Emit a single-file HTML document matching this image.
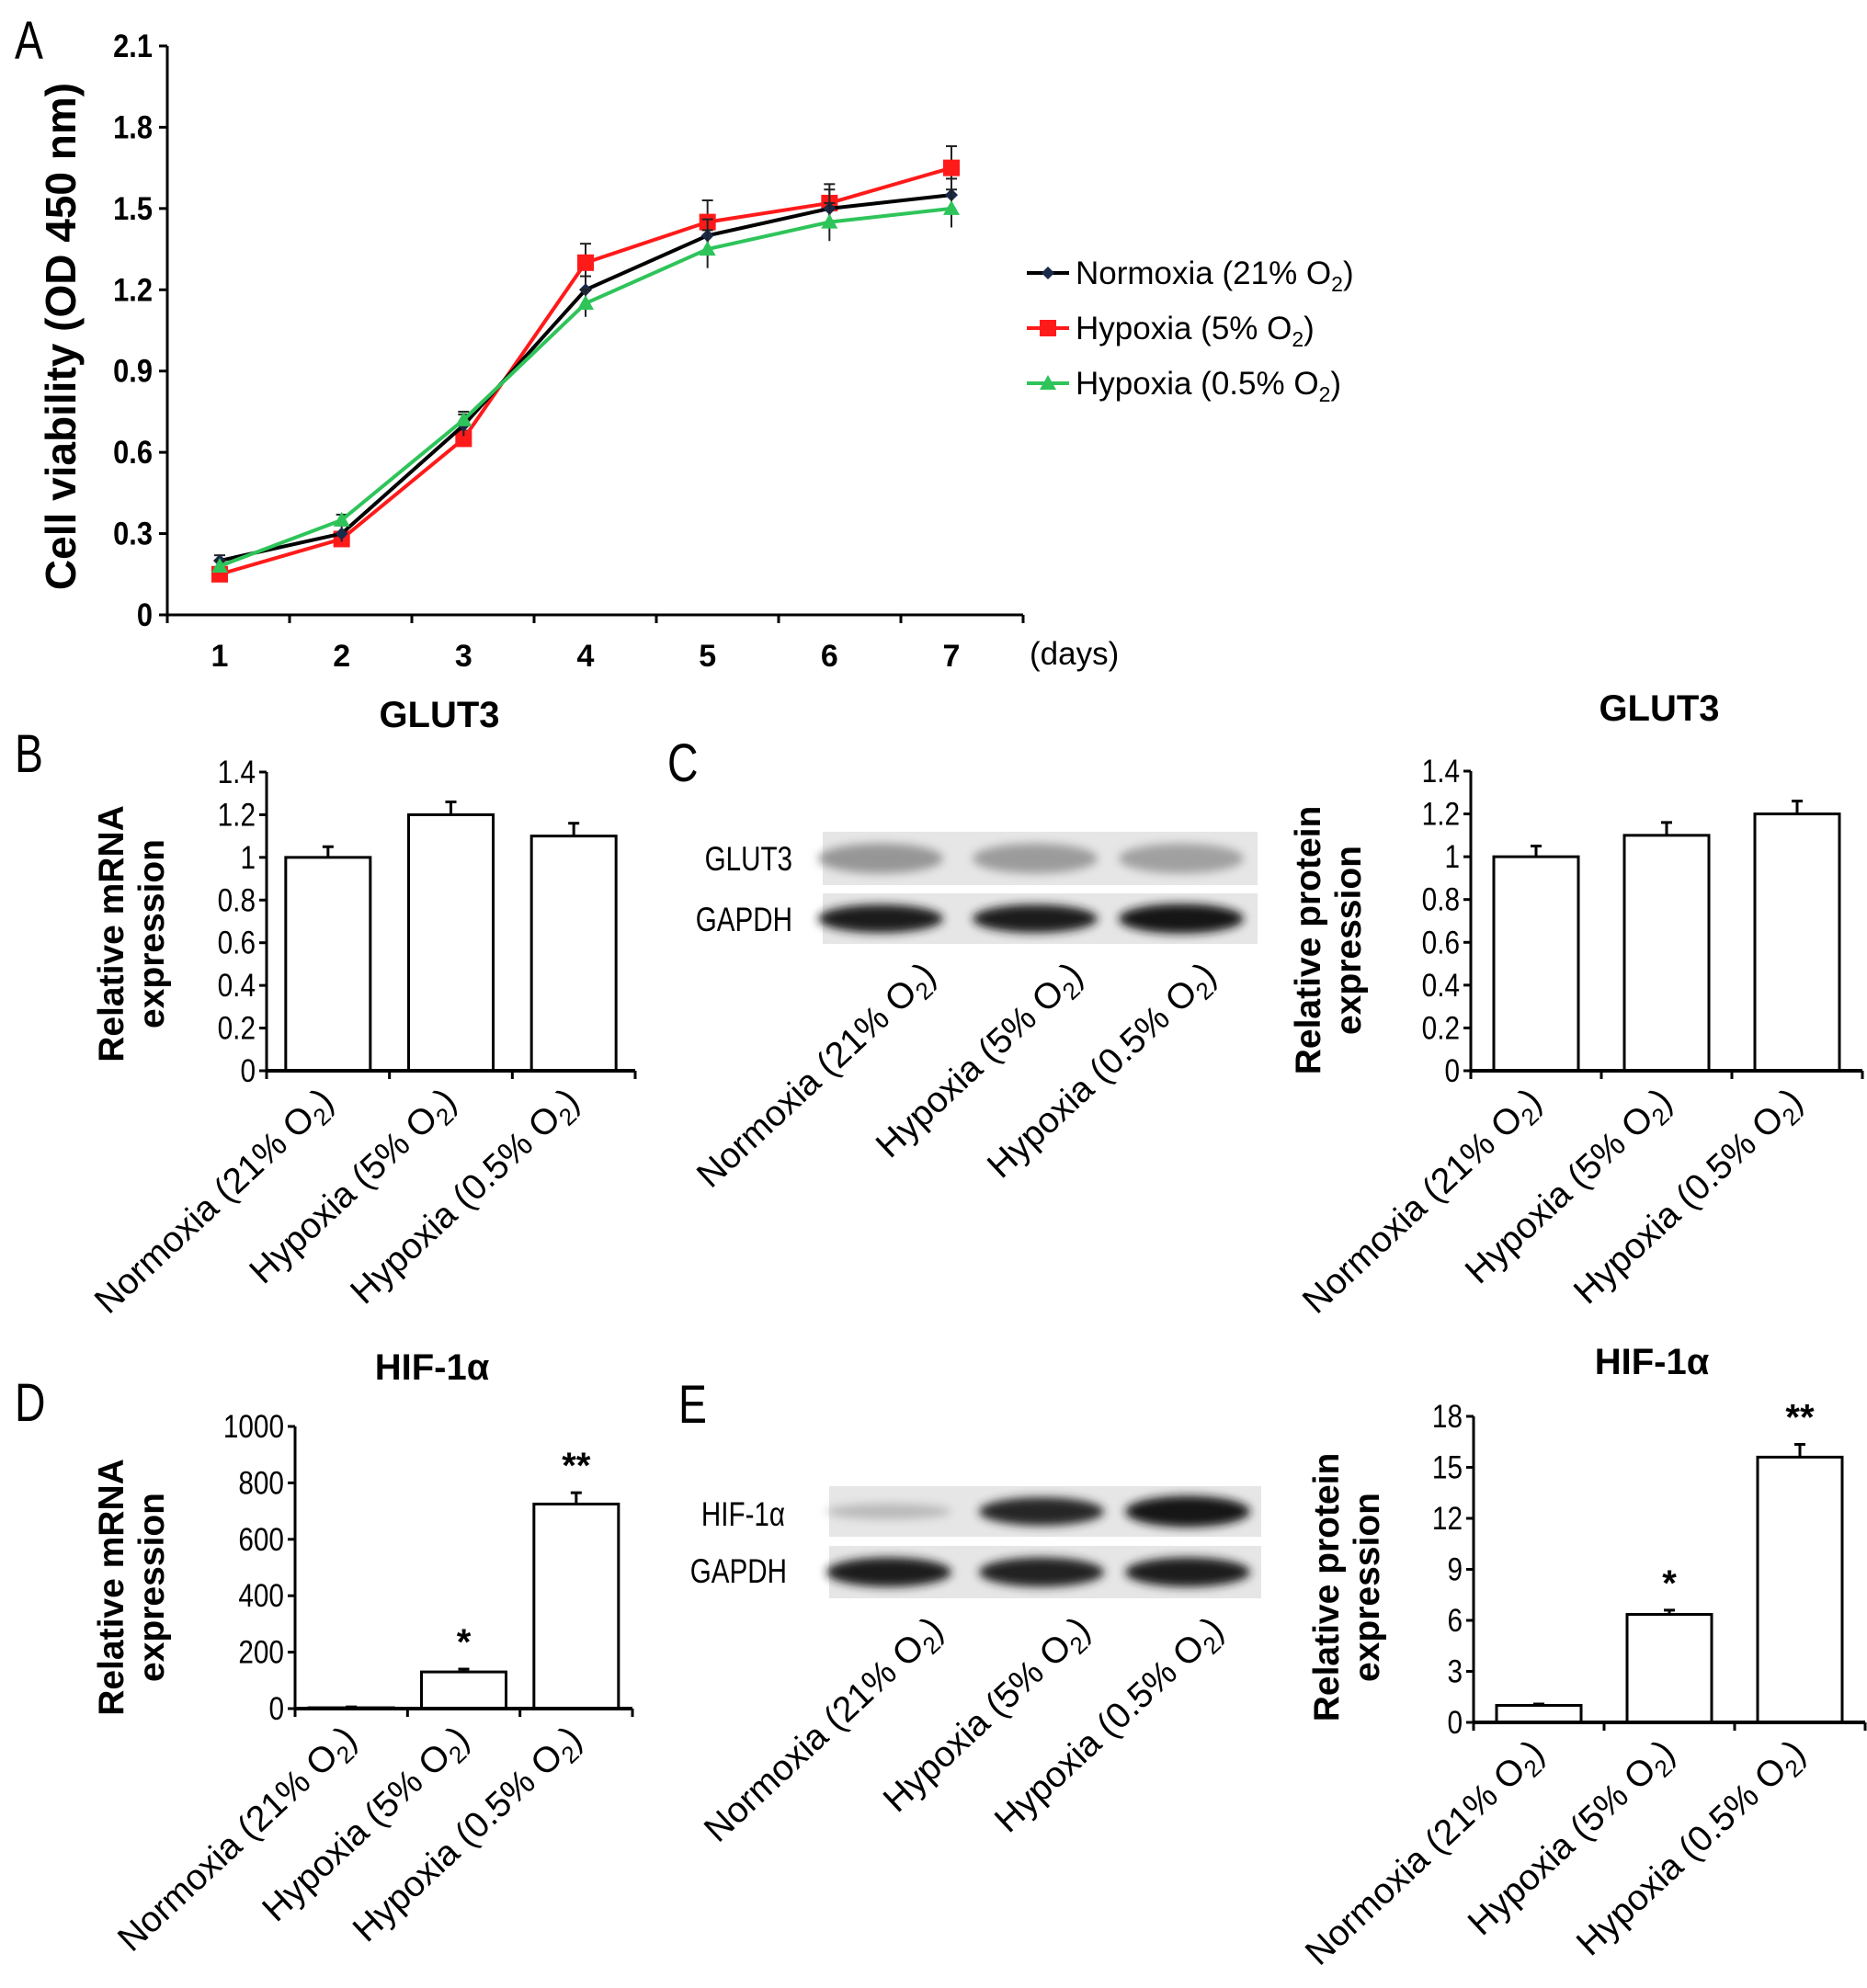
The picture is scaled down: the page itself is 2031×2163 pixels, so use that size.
<!DOCTYPE html>
<html><head><meta charset="utf-8"><style>
html,body{margin:0;padding:0;background:#fff}
svg{display:block;font-family:"Liberation Sans",sans-serif}
</style></head><body>
<svg id="fig" width="2031" height="2163" viewBox="0 0 2031 2163" xmlns="http://www.w3.org/2000/svg">
<defs><filter id="blur" x="-20%" y="-50%" width="140%" height="200%"><feGaussianBlur stdDeviation="5"/></filter></defs>
</svg>
<script>
const days=[1,2,3,4,5,6,7];
const normoxia=[0.20,0.30,0.70,1.20,1.40,1.50,1.55];
const normoxiaErr=[0.02,0.03,0.04,0.05,0.06,0.07,0.06];
const hyp5=[0.15,0.28,0.65,1.30,1.45,1.52,1.65];
const hyp5Err=[0.02,0.02,0.03,0.07,0.08,0.07,0.08];
const hyp05=[0.18,0.35,0.72,1.15,1.35,1.45,1.50];
const hyp05Err=[0.02,0.02,0.03,0.05,0.07,0.07,0.07];
const aTicks=[0,0.3,0.6,0.9,1.2,1.5,1.8,2.1];
const groups=["Normoxia (21% O","Hypoxia (5% O","Hypoxia (0.5% O"];
const bVals=[1.0,1.2,1.1], bErr=[0.05,0.06,0.06];
const cVals=[1.0,1.1,1.2], cErr=[0.05,0.06,0.06];
const glutTicks=[0,0.2,0.4,0.6,0.8,1,1.2,1.4];
const dVals=[3,130,725], dErr=[3,10,40], dStars=["","*","**"];
const dTicks=[0,200,400,600,800,1000];
const eVals=[1.0,6.35,15.6], eErr=[0.08,0.25,0.75], eStars=["","*","**"];
const eTicks=[0,3,6,9,12,15,18];

const svg=document.getElementById('fig');
const NS='http://www.w3.org/2000/svg';
function mk(tag,attrs,parent){const e=document.createElementNS(NS,tag);for(const k in attrs)e.setAttribute(k,attrs[k]);(parent||svg).appendChild(e);return e;}
function txt(x,y,s,size,opts,parent){const e=mk('text',Object.assign({x:x,y:y,'font-size':size,fill:'#000'},opts||{}),parent);e.textContent=s;return e;}
function narrow(x,y,s,size,sx,opts){return txt(x,y,s,size,Object.assign({transform:`translate(${x},0) scale(${sx},1) translate(${-x},0)`},opts||{}));}

// ---------- Panel A ----------
const A={x0:182,x1:1113,y0:669,y1:50,dmin:239,dmax:1035,vmax:2.1};
const ax=d=>A.dmin+(d-1)*(A.dmax-A.dmin)/6;
const ay=v=>A.y0-(v/A.vmax)*(A.y0-A.y1);
let el;
el=narrow(16,64,'A',58,0.8,{});


el=mk('line',{x1:A.x0,y1:A.y1,x2:A.x0,y2:A.y0,stroke:'#000','stroke-width':3});


el=mk('line',{x1:A.x0,y1:A.y0,x2:A.x1,y2:A.y0,stroke:'#000','stroke-width':3});


aTicks.forEach(t=>{
  mk('line',{x1:A.x0-9,y1:ay(t),x2:A.x0,y2:ay(t),stroke:'#000','stroke-width':3});
  el=narrow(A.x0-16,ay(t)+12,String(t),35,0.88,{'text-anchor':'end','font-weight':'bold'});
  
  
});
for(let i=0;i<=7;i++){const x=A.x0+i*(A.x1-A.x0)/7;mk('line',{x1:x,y1:A.y0,x2:x,y2:A.y0+9,stroke:'#000','stroke-width':3});}
days.forEach(d=>{el=txt(ax(d),A.y0+56,String(d),34,{'text-anchor':'middle','font-weight':'bold'});
  
  });
el=txt(1120,723,'(days)',35,{});


el=txt(0,0,'Cell viability (OD 450 nm)',46,{'font-weight':'bold','text-anchor':'middle',transform:'translate(82,366) rotate(-90)'});



function series(vals,errs,color,marker,name){
  const g=mk('g',{});
  
  
  vals.forEach((v,i)=>{const x=ax(days[i]);mk('line',{x1:x,y1:ay(v-errs[i]),x2:x,y2:ay(v+errs[i]),stroke:'#222','stroke-width':2},g);
    mk('line',{x1:x-6,y1:ay(v+errs[i]),x2:x+6,y2:ay(v+errs[i]),stroke:'#222','stroke-width':2},g);});
  mk('polyline',{points:vals.map((v,i)=>ax(days[i])+','+ay(v)).join(' '),fill:'none',stroke:color,'stroke-width':4},g);
  vals.forEach((v,i)=>drawMarker(ax(days[i]),ay(v),color,marker,g));
}
function drawMarker(x,y,color,m,g){
  if(m==='sq')mk('rect',{x:x-9,y:y-9,width:18,height:18,fill:color},g);
  else if(m==='di')mk('polygon',{points:`${x},${y-7} ${x+7},${y} ${x},${y+7} ${x-7},${y}`,fill:'#1a2a4a'},g);
  else mk('polygon',{points:`${x},${y-9} ${x+9},${y+7} ${x-9},${y+7}`,fill:color},g);
}
series(hyp5,hyp5Err,'#ff1a1a','sq','series-hypoxia-5');
series(normoxia,normoxiaErr,'#000','di','series-normoxia');
series(hyp05,hyp05Err,'#2ec45a','tri','series-hypoxia-05');
const leg=[['Normoxia (21% O','#000','di'],['Hypoxia (5% O','#ff1a1a','sq'],['Hypoxia (0.5% O','#2ec45a','tri']];
leg.forEach((l,i)=>{const y=297+i*60;const g=mk('g',{});
  
  
  mk('line',{x1:1117,y1:y,x2:1163,y2:y,stroke:l[1],'stroke-width':4},g);
  drawMarker(1140,y,l[1],l[2],g);
  const t=txt(1170,y+12,l[0],35,{},g);
  const s=mk('tspan',{'font-size':23,dy:8},t);s.textContent='2';
  const c=mk('tspan',{dy:-8},t);c.textContent=')';
});

// ---------- Bar charts ----------
function rotLabels(centers,y0,prefix){
  centers.forEach((cx,i)=>{
    const t=mk('text',{'font-size':39,'text-anchor':'end',transform:`translate(${cx+8},${y0+36}) rotate(-43)`,fill:'#000'});
    
    
    t.textContent=groups[i];
    const s=mk('tspan',{'font-size':26,dy:9},t);s.textContent='2';
    const c=mk('tspan',{dy:-9},t);c.textContent=')';
  });
}
function barChart(o){
  const yv=v=>o.y0-(v/o.vmax)*(o.y0-o.y1);
  const step=(o.x1-o.x0)/3;
  el=txt(o.titleX,o.titleY,o.title,40,{'font-weight':'bold','text-anchor':'middle'});
  
  
  o.ticks.forEach(t=>{mk('line',{x1:o.x0-8,y1:yv(t),x2:o.x0,y2:yv(t),stroke:'#000','stroke-width':3});
    el=narrow(o.x0-12,yv(t)+12,String(t),35,0.85,{'text-anchor':'end'});
    
    });
  const centers=[];
  o.vals.forEach((v,i)=>{const cx=o.x0+step*(i+0.5);centers.push(cx);
    const bw=92;
    el=mk('rect',{x:cx-bw/2,y:yv(v),width:bw,height:o.y0-yv(v),fill:'#fff',stroke:'#000','stroke-width':3});
    
    
    mk('line',{x1:cx,y1:yv(v),x2:cx,y2:yv(v+o.errs[i]),stroke:'#000','stroke-width':3});
    mk('line',{x1:cx-6,y1:yv(v+o.errs[i]),x2:cx+6,y2:yv(v+o.errs[i]),stroke:'#000','stroke-width':3});
    if(o.stars&&o.stars[i]){el=txt(cx,yv(v+o.errs[i])-16,o.stars[i],40,{'font-weight':'bold','text-anchor':'middle'});
      
      }
  });
  el=mk('line',{x1:o.x0,y1:o.y1,x2:o.x0,y2:o.y0,stroke:'#000','stroke-width':3});
  
  
  el=mk('line',{x1:o.x0,y1:o.y0,x2:o.x1,y2:o.y0,stroke:'#000','stroke-width':4});
  
  
  for(let i=0;i<=3;i++){const x=o.x0+i*step;mk('line',{x1:x,y1:o.y0,x2:x,y2:o.y0+9,stroke:'#000','stroke-width':3});}
  const t=mk('text',{'font-size':39,'font-weight':'bold','text-anchor':'middle',transform:`translate(${o.ytX},${o.ytY}) rotate(-90)`,fill:'#000'});
  
  
  const a=mk('tspan',{x:0,y:0},t);a.textContent=o.yt[0];
  const b=mk('tspan',{x:0,y:44},t);b.textContent=o.yt[1];
  rotLabels(centers,o.y0,o.name);
}
barChart({name:'b-chart',x0:290,x1:691,y0:1165,y1:840,vmax:1.4,vals:bVals,errs:bErr,ticks:glutTicks,title:'GLUT3',titleX:478,titleY:791,yt:['Relative mRNA','expression'],ytX:134,ytY:1016});
barChart({name:'c-chart',x0:1600,x1:2026,y0:1165,y1:839,vmax:1.4,vals:cVals,errs:cErr,ticks:glutTicks,title:'GLUT3',titleX:1805,titleY:784,yt:['Relative protein','expression'],ytX:1436,ytY:1023});
barChart({name:'d-chart',x0:321,x1:688,y0:1859,y1:1552,vmax:1000,vals:dVals,errs:dErr,stars:dStars,ticks:dTicks,title:'HIF-1α',titleX:470,titleY:1501,yt:['Relative mRNA','expression'],ytX:134,ytY:1727});
barChart({name:'e-chart',x0:1603,x1:2029,y0:1874,y1:1541,vmax:18,vals:eVals,errs:eErr,stars:eStars,ticks:eTicks,title:'HIF-1α',titleX:1797,titleY:1495,yt:['Relative protein','expression'],ytX:1456,ytY:1727});

[['B',16,840],['C',726,850],['D',16,1546],['E',738,1548]].forEach(p=>{el=narrow(p[1],p[2],p[0],58,0.8,{});
  
  });

// ---------- Blots ----------
function blot(x,y,w,h,lanes,intens,thick,name){
  const g=mk('g',{});
  
  
  mk('rect',{x:x,y:y,width:w,height:h,fill:'#e6e6e6'},g);
  lanes.forEach((cx,i)=>{const c=intens[i];
    mk('ellipse',{cx:cx,cy:y+h/2,rx:68,ry:h*0.28*thick[i],fill:`rgb(${c},${c},${c})`,filter:'url(#blur)'},g);});
}
blot(895,905,473,58,[958,1126,1285],[150,155,160],[1,1,1],'glut3-blot');
blot(895,972,473,55,[958,1126,1285],[30,30,25],[1,1,1.05],'c-gapdh-blot');
blot(902,1617,470,55,[967,1133,1292],[185,40,20],[0.55,1,1.1],'hif1a-blot');
blot(902,1682,470,57,[967,1133,1292],[30,35,30],[1,1,1],'e-gapdh-blot');
[['GLUT3',862,947],['GAPDH',862,1013],['HIF-1α',854,1660],['GAPDH',856,1722]].forEach(l=>{
  el=narrow(l[1],l[2],l[0],37,0.8,{'text-anchor':'end'});
  
  });
rotLabels([1012,1172,1317],1028,'c-blot');
rotLabels([1020,1180,1325],1740,'e-blot');
</script>
</body></html>
